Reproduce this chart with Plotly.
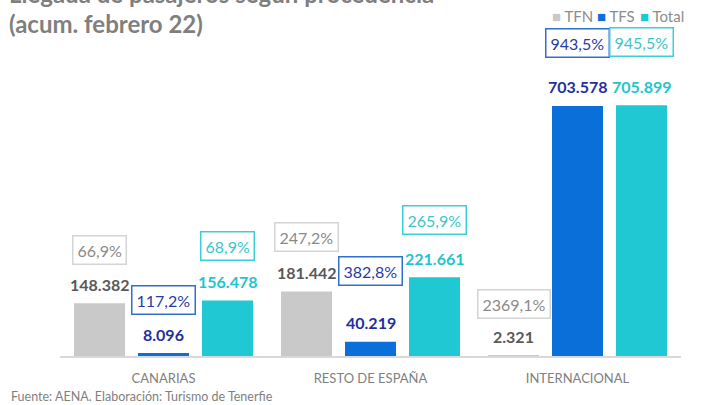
import plotly.graph_objects as go

categories = ["CANARIAS", "RESTO DE ESPAÑA", "INTERNACIONAL"]
series_names = ["TFN", "TFS", "Total"]
tfn = [148382, 181442, 2321]
tfs = [8096, 40219, 703578]
total = [156478, 221661, 705899]
tfn_pct = [66.9, 247.2, 2369.1]
tfs_pct = [117.2, 382.8, 943.5]
total_pct = [68.9, 265.9, 945.5]

values = [tfn, tfs, total]
pcts = [tfn_pct, tfs_pct, total_pct]

# style
bar_colors = ["#C9C9C9", "#0A6FD8", "#1FC8D2"]
value_colors = ["#595959", "#1F2FA0", "#1FC4CE"]
pct_colors = ["#8A8A8A", "#2A3AA8", "#3AC6CC"]
box_colors = ["#D4D4D4", "#2E6FD0", "#3CCED5"]
pct_lift = [[34, 36, 32], [34, 52, 44], [35, 38, 44]]  # label spacing in px

FONT = "Lato"
W, H = 704, 405
MT, MB, ML, MR = 60, 49, 60, 23
PLOT_H = H - MT - MB
PLOT_W = W - ML - MR
YMAX = 833000


def fmt_int(v):
    return f"{v:,}".replace(",", ".")


def fmt_pct(p):
    return f"{p:.1f}".replace(".", ",") + "%"


def paper_y(px):
    return (H - MB - px) / PLOT_H


def paper_x(px):
    return (px - ML) / PLOT_W


fig = go.Figure()
for k in range(3):
    fig.add_trace(go.Bar(
        x=categories, y=values[k], name=series_names[k],
        marker=dict(color=bar_colors[k], line=dict(width=0)),
        showlegend=False, hoverinfo="x+y+name",
    ))

annotations = []
spacing = 64
for k in range(3):
    for i, cat in enumerate(categories):
        v = values[k][i]
        annotations.append(dict(
            x=cat, y=v, xref="x", yref="y", xshift=(k - 1) * spacing, yshift=19,
            text=fmt_int(v), showarrow=False, yanchor="middle",
            font=dict(family=FONT, size=16, color=value_colors[k], weight="bold"),
        ))
        annotations.append(dict(
            x=cat, y=v, xref="x", yref="y", xshift=(k - 1) * spacing,
            yshift=19 + pct_lift[k][i],
            text=fmt_pct(pcts[k][i]), showarrow=False, yanchor="middle",
            font=dict(family=FONT, size=16, color=pct_colors[k]),
            bordercolor=box_colors[k], borderwidth=1.5, borderpad=4,
            bgcolor="white",
        ))

# title (first line partly off the top of the picture, as in the original)
annotations.append(dict(
    x=paper_x(7), y=paper_y(-6), xref="paper", yref="paper", xanchor="left",
    yanchor="middle", showarrow=False,
    text="Llegada de pasajeros según procedencia",
    font=dict(family=FONT, size=24, color="#7F7F7F", weight="bold"),
))
annotations.append(dict(
    x=paper_x(7), y=paper_y(24), xref="paper", yref="paper", xanchor="left",
    yanchor="middle", showarrow=False, text="(acum. febrero 22)",
    font=dict(family=FONT, size=24, color="#7F7F7F", weight="bold"),
))

# legend
legend_x = [550, 595, 638]
for k in range(3):
    annotations.append(dict(
        x=paper_x(legend_x[k]), y=paper_y(16), xref="paper", yref="paper",
        xanchor="left", yanchor="middle", showarrow=False,
        text=f"<span style='color:{bar_colors[k]}'>■</span> {series_names[k]}",
        font=dict(family=FONT, size=15, color="#8C8C8C"),
    ))

# footer
annotations.append(dict(
    x=paper_x(9), y=paper_y(396), xref="paper", yref="paper", xanchor="left",
    yanchor="middle", showarrow=False,
    text="Fuente: AENA. Elaboración: Turismo de Tenerfie",
    font=dict(family=FONT, size=12.5, color="#7F7F7F"),
))

fig.update_layout(
    width=W, height=H,
    margin=dict(l=ML, r=MR, t=MT, b=MB),
    paper_bgcolor="white", plot_bgcolor="white",
    barmode="group", bargap=0.0725, bargroupgap=0.203,
    annotations=annotations,
    xaxis=dict(
        showline=True, linecolor="#D9D9D9", linewidth=1.5, ticks="",
        tickfont=dict(family=FONT, size=13, color="#808080"),
        ticklabelstandoff=10, showgrid=False, fixedrange=True,
    ),
    yaxis=dict(range=[0, YMAX], visible=False, showgrid=False, fixedrange=True),
    font=dict(family=FONT),
)

fig.write_html(
    "out.html",
    config={"displayModeBar": False},
    post_script="document.body.style.margin='0';document.body.style.overflow='hidden';",
)
